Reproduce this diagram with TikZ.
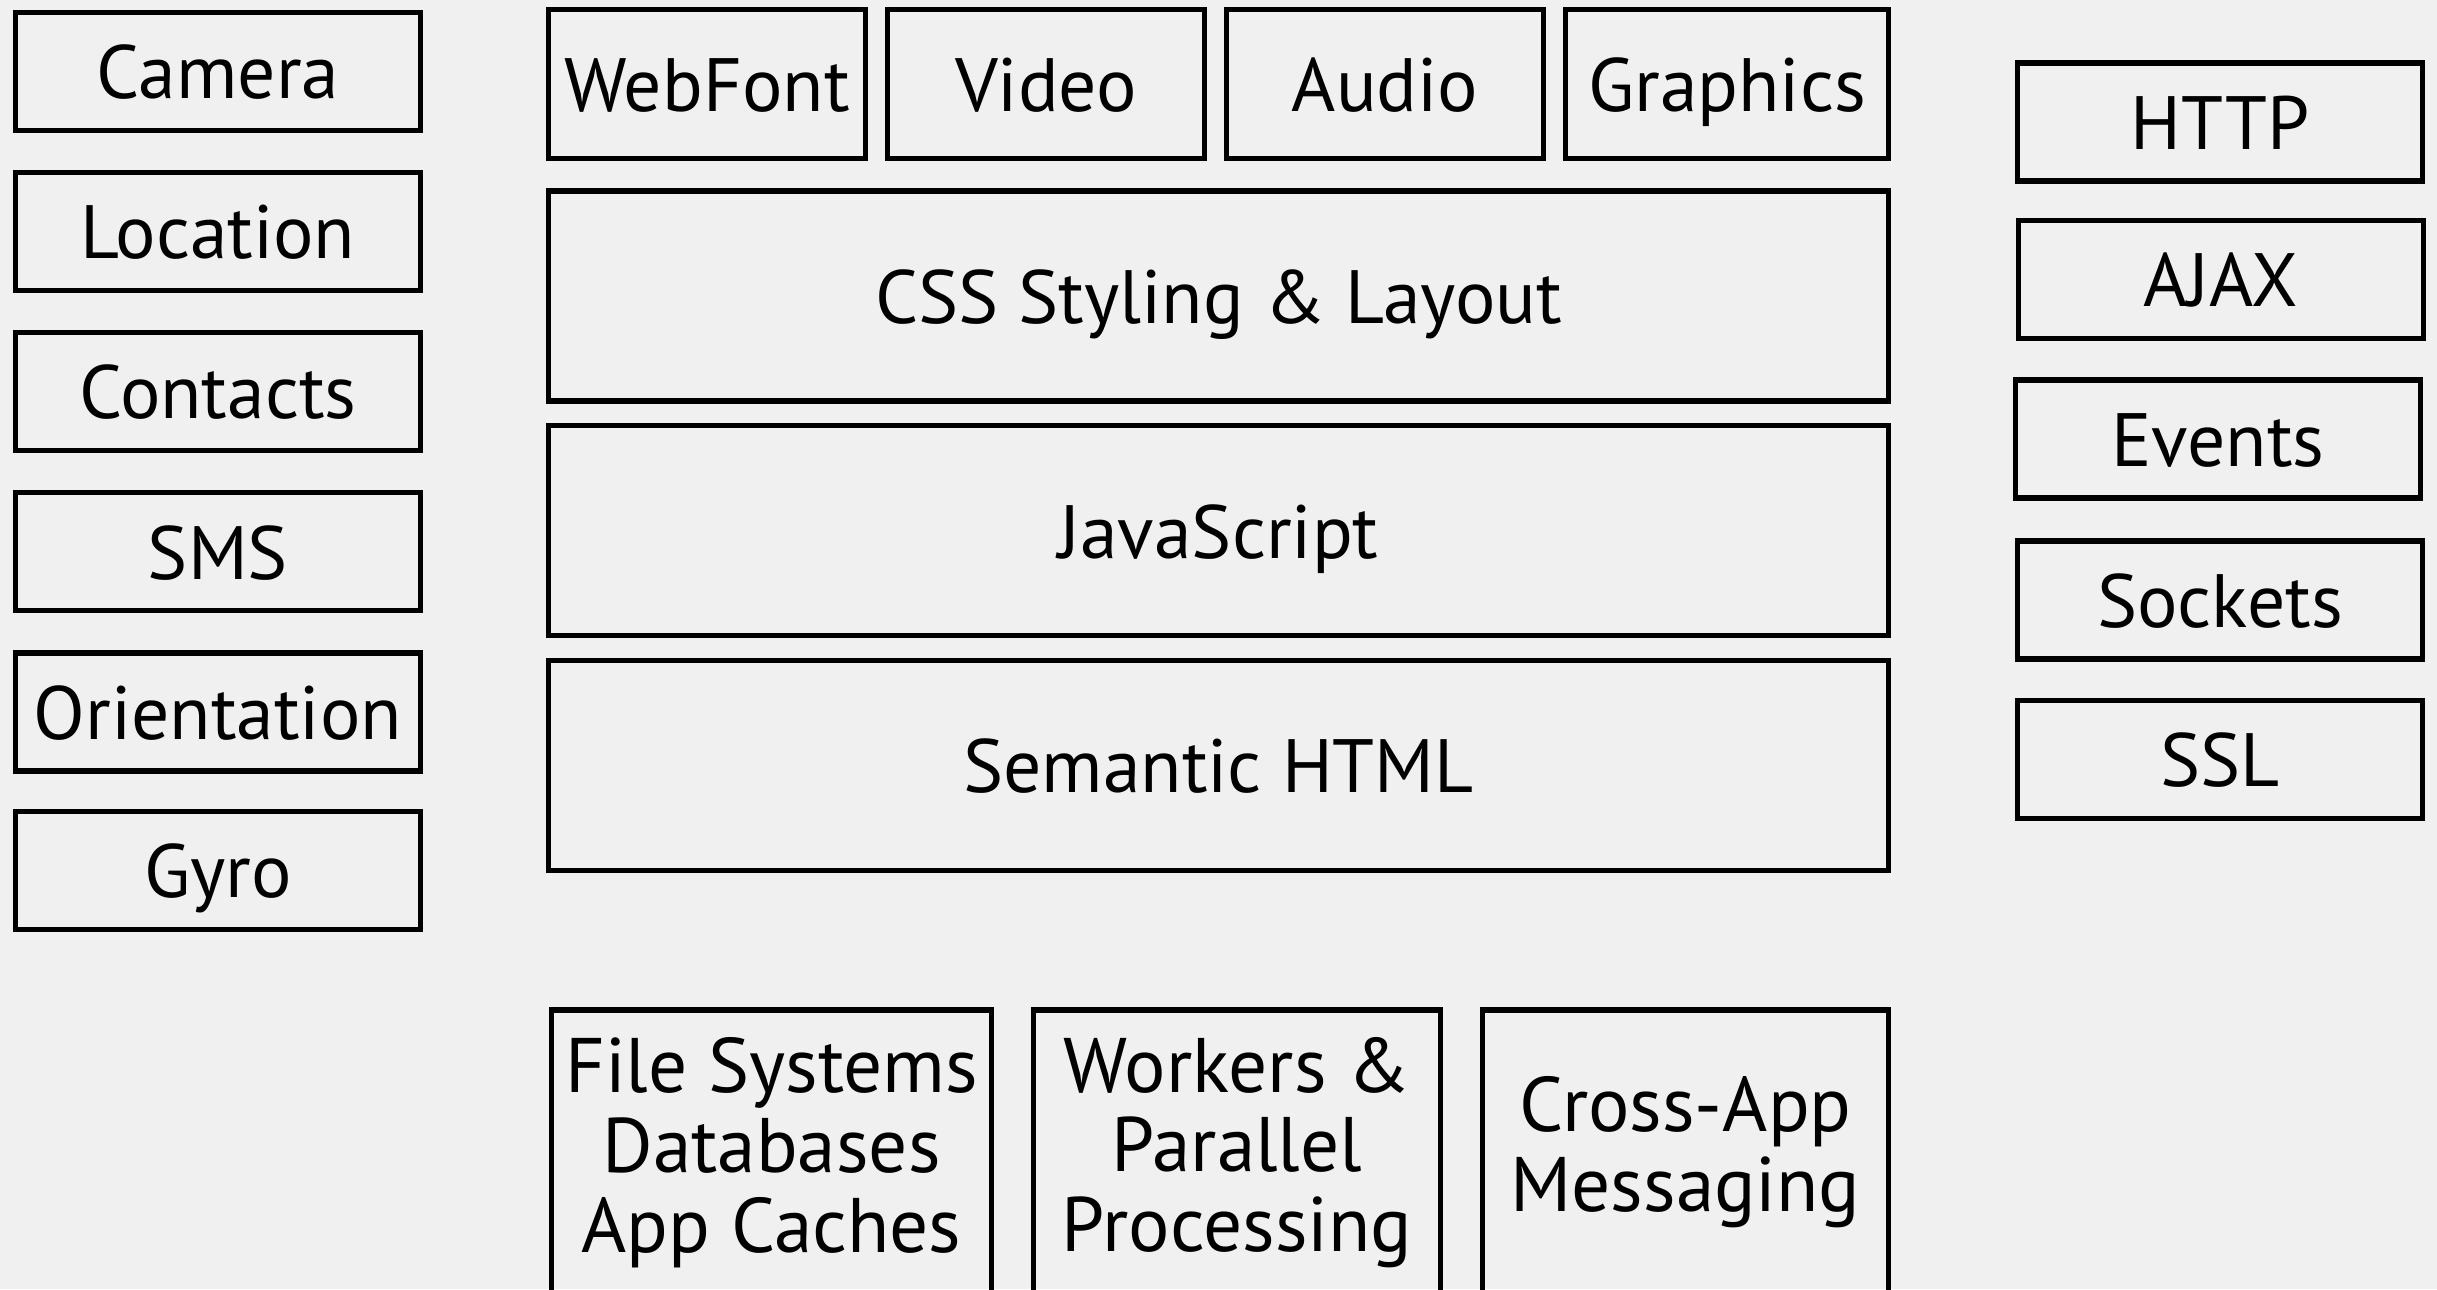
\documentclass[tikz,border=0pt]{standalone}
\usepackage{fontspec}
\setmainfont{PT Sans}
\definecolor{paper}{HTML}{F0F0F0}

\begin{document}
\begin{tikzpicture}[every node/.style={rectangle, draw=black, line width=1.5pt, inner sep=0pt,
    font=\fontsize{21.5}{22}\selectfont},
  oneline/.style={text height=15.5pt, text depth=0pt},
  side/.style={oneline, minimum width=4.05cm, minimum height=1.18cm},
  media/.style={oneline, minimum width=3.17cm, minimum height=1.49cm},
  layer/.style={oneline, minimum width=13.4cm, minimum height=2.1cm},
  store/.style={minimum height=2.85cm, align=center, font=\fontsize{22}{22.7}\selectfont}]
\fill[paper] (0,0) rectangle (24.37,-12.89);
\useasboundingbox (0,0) rectangle (24.37,-12.89);

% Device APIs on the left
\node[side] (C1) at (2.18,-0.715) {Camera};
\node[side] (C2) at (2.18,-2.316) {Location};
\node[side] (C3) at (2.18,-3.917) {Contacts};
\node[side] (C4) at (2.18,-5.518) {SMS};
\node[side] (C5) at (2.18,-7.119) {Orientation};
\node[side] (C6) at (2.18,-8.704) {Gyro};

% Media row on top
\node[media] (M1) at (7.07,-0.839) {WebFont};
\node[media] (M2) at (10.46,-0.839) {Video};
\node[media] (M3) at (13.85,-0.839) {Audio};
\node[media, minimum width=3.23cm] (M4) at (17.27,-0.839) {Graphics};

% The three layers
\node[layer] (L1) at (12.185,-2.961) {CSS Styling \& Layout};
\node[layer] (L2) at (12.185,-5.308) {JavaScript};
\node[layer] (L3) at (12.185,-7.655) {Semantic HTML};

% Storage and processing at the bottom
\node[store, minimum width=4.40cm] (S1) at (7.716,-11.525) {File Systems\\Databases\\App Caches};
\node[store, minimum width=4.07cm] (S2) at (12.371,-11.525) {Workers \&\\Parallel\\Processing};
\node[store, minimum width=4.06cm] (S3) at (16.855,-11.525) {Cross-App\\Messaging};

% Network on the right
\node[side] (N1) at (22.20,-1.22) {HTTP};
\node[side] (N2) at (22.21,-2.795) {AJAX};
\node[side] (N3) at (22.18,-4.39) {Events};
\node[side] (N4) at (22.20,-6.0) {Sockets};
\node[side] (N5) at (22.20,-7.595) {SSL};
\end{tikzpicture}
\end{document}
